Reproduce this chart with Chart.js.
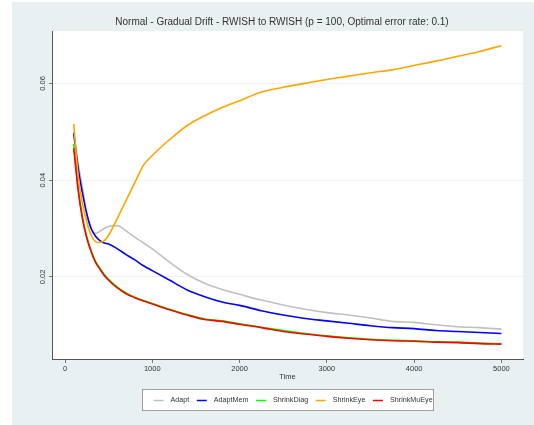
<!DOCTYPE html>
<html>
<head>
<meta charset="utf-8">
<script src="https://cdn.jsdelivr.net/npm/chart.js@4"></script>
<style>
  html, body { margin: 0; padding: 0; background: #ffffff; }
  #wrap { width: 534px; height: 425px; }
</style>
</head>
<body>
<div id="wrap"><canvas id="chart" width="534" height="425"></canvas></div>
<script>
// Time steps at which the error rates are recorded
const timePoints = [100, 150, 200, 250, 300, 350, 400, 450, 500, 600, 700, 800, 900, 1000,
  1200, 1400, 1600, 1800, 2000, 2250, 2500, 2750, 3000, 3250, 3500, 3750, 4000, 4250, 4500, 4750, 5000];

// Error rate of each method
const adapt = [0.0500, 0.0435, 0.0385, 0.0330, 0.0298, 0.0290, 0.0294, 0.0300, 0.0304, 0.0306, 0.0295,
  0.0282, 0.0270, 0.0258, 0.0230, 0.0205, 0.0187, 0.0174, 0.0164, 0.0152, 0.0142, 0.0133, 0.0126,
  0.0121, 0.0115, 0.0108, 0.0106, 0.0101, 0.0097, 0.0095, 0.0092];
const adaptMem = [0.0497, 0.0425, 0.0373, 0.0330, 0.0300, 0.0284, 0.0275, 0.0270, 0.0268, 0.0258, 0.0246,
  0.0235, 0.0223, 0.0213, 0.0193, 0.0173, 0.0159, 0.0148, 0.0141, 0.0130, 0.0121, 0.0114, 0.0109,
  0.0104, 0.0099, 0.0095, 0.0093, 0.0089, 0.0087, 0.0085, 0.0083];
const shrinkDiag = [0.0475, 0.0385, 0.0324, 0.0283, 0.0254, 0.0232, 0.0218, 0.0205, 0.0195, 0.0179, 0.0167,
  0.0158, 0.0151, 0.0145, 0.0133, 0.0122, 0.0113, 0.0109, 0.0103, 0.0096, 0.0089, 0.0083, 0.0078,
  0.0074, 0.0071, 0.0069, 0.0068, 0.0066, 0.0065, 0.0063, 0.0062];
const shrinkEye = [0.0516, 0.0410, 0.0352, 0.0313, 0.0286, 0.0273, 0.0271, 0.0275, 0.0286, 0.0321, 0.0358,
  0.0395, 0.0431, 0.0451, 0.0484, 0.0513, 0.0533, 0.0550, 0.0564, 0.0582, 0.0592, 0.0600, 0.0608,
  0.0615, 0.0622, 0.0628, 0.0637, 0.0646, 0.0656, 0.0666, 0.0678];
const shrinkMuEye = [0.0466, 0.0380, 0.0320, 0.0280, 0.0252, 0.0230, 0.0216, 0.0203, 0.0193, 0.0177, 0.0165,
  0.0157, 0.0150, 0.0144, 0.0132, 0.0121, 0.0112, 0.0108, 0.0102, 0.0095, 0.0087, 0.0082, 0.0077,
  0.0073, 0.0070, 0.0068, 0.0067, 0.0065, 0.0064, 0.0062, 0.0061];

const seriesNames = ['Adapt', 'AdaptMem', 'ShrinkDiag', 'ShrinkEye', 'ShrinkMuEye'];
const seriesValues = [adapt, adaptMem, shrinkDiag, shrinkEye, shrinkMuEye];
const seriesColors = ['#c0c0c0', '#0000ff', '#00ff00', '#ffa500', '#ff0000'];

const xTicks = [0, 1000, 2000, 3000, 4000, 5000];
const yTicks = [0.02, 0.04, 0.06];
const titleText = 'Normal - Gradual Drift - RWISH to RWISH (p = 100, Optimal error rate: 0.1)';
const xTitle = 'Time';

const FONT = '"Liberation Sans", Arial, sans-serif';
const TEXT = '#333333';

const datasets = seriesNames.map((name, i) => ({
  label: name,
  data: timePoints.map((t, j) => ({ x: t, y: seriesValues[i][j] })),
  borderColor: seriesColors[i],
  backgroundColor: seriesColors[i],
  borderWidth: 1.6,
  pointRadius: 0,
  cubicInterpolationMode: 'monotone',
  order: seriesNames.length - i   // later series painted over earlier ones
}));

// Page background, plot panel, title, rotated y labels and boxed legend
const frame = {
  id: 'frame',
  beforeDraw(chart) {
    const { ctx, chartArea: a } = chart;
    ctx.save();
    ctx.fillStyle = '#ffffff';
    ctx.fillRect(0, 0, chart.width, chart.height);
    ctx.fillStyle = '#e9f0f2';
    ctx.fillRect(12, 2, chart.width - 12, chart.height - 2);
    ctx.fillStyle = '#ffffff';
    ctx.fillRect(a.left, a.top, a.right - a.left, a.bottom - a.top);
    ctx.restore();
  },
  afterDraw(chart) {
    const { ctx } = chart;
    const ys = chart.scales.y;
    ctx.save();
    // title
    ctx.fillStyle = TEXT;
    ctx.font = '10px ' + FONT;
    ctx.textAlign = 'center';
    ctx.textBaseline = 'middle';
    ctx.fillText(titleText, 282, 22);
    // y tick labels, read bottom to top
    ctx.font = '7.5px ' + FONT;
    ys.ticks.forEach(t => {
      const y = ys.getPixelForValue(t.value);
      ctx.save();
      ctx.translate(43, y);
      ctx.rotate(-Math.PI / 2);
      ctx.fillText(t.value.toFixed(2), 0, 0);
      ctx.restore();
    });
    // legend
    const bx = 142.5, by = 389.5, bw = 291, bh = 21;
    ctx.fillStyle = '#ffffff';
    ctx.fillRect(bx, by, bw, bh);
    ctx.strokeStyle = '#a0a0a0';
    ctx.lineWidth = 1;
    ctx.strokeRect(bx, by, bw, bh);
    ctx.font = '7.2px ' + FONT;
    ctx.textAlign = 'left';
    let x = 153.5;
    const cy = 400.5;
    chart.data.datasets.forEach(ds => {
      ctx.strokeStyle = ds.borderColor;
      ctx.lineWidth = 1.5;
      ctx.beginPath();
      ctx.moveTo(x, cy);
      ctx.lineTo(x + 10, cy);
      ctx.stroke();
      x += 17;
      ctx.fillStyle = TEXT;
      ctx.fillText(ds.label, x, cy);
      x += ctx.measureText(ds.label).width + 7.5;
    });
    ctx.restore();
  }
};

new Chart(document.getElementById('chart'), {
  type: 'line',
  data: { datasets },
  plugins: [frame],
  options: {
    responsive: false,
    animation: false,
    events: [],
    layout: { padding: { left: 0, right: 11, top: 31, bottom: 40 } },
    plugins: {
      legend: { display: false },
      title: { display: false },
      tooltip: { enabled: false }
    },
    scales: {
      x: {
        type: 'linear',
        min: -149,
        max: 5247,
        afterBuildTicks: s => { s.ticks = xTicks.map(v => ({ value: v })); },
        afterFit: s => { s.height = 26; },
        border: { display: true, color: '#555555', width: 1 },
        grid: { display: true, drawOnChartArea: false, drawTicks: true, tickLength: 4, tickColor: '#777777' },
        ticks: { color: TEXT, font: { size: 7.5, family: FONT }, padding: 1, maxRotation: 0,
                 callback: v => String(v) },
        title: { display: true, text: xTitle, color: TEXT, font: { size: 7.5, family: FONT }, padding: { top: 0, bottom: 3.5 } }
      },
      y: {
        type: 'linear',
        min: 0.00302,
        max: 0.07083,
        afterBuildTicks: s => { s.ticks = yTicks.map(v => ({ value: v })); },
        afterFit: s => { s.width = 52; },
        border: { display: true, color: '#555555', width: 1 },
        grid: { display: true, color: '#eef2f3', lineWidth: 1, drawTicks: true, tickLength: 3, tickColor: '#777777' },
        ticks: { display: false }
      }
    }
  }
});
</script>
</body>
</html>
